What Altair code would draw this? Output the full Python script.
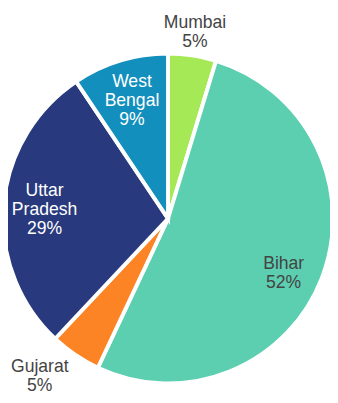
import altair as alt
import pandas as pd

names = ["Mumbai", "Bihar", "Gujarat", "Uttar Pradesh", "West Bengal"]
display = ["Mumbai", "Bihar", "Gujarat", "Uttar\nPradesh", "West\nBengal"]
values = [4.7, 52.3, 5.0, 28.6, 9.4]
colors = ["#a6e957", "#5dcfb1", "#fd8424", "#283a7d", "#138fbd"]

df = pd.DataFrame({"name": names, "disp": display, "value": values, "idx": list(range(len(names)))})

TOTAL = sum(values)
CX, CY = 164, 211
TY = CY + 1.5          # text anchor correction for Vega's 'middle' baseline
LH = 19.5
R = 169
theta_scale = alt.Scale(domain=[0, TOTAL], range=[0, 6.283185307179586])

base = alt.Chart(df).transform_window(
    end="sum(value)", sort=[alt.SortField("idx")], frame=[None, 0]
).transform_calculate(
    start="datum.end - datum.value",
    a=f"(datum.end - datum.value / 2) / {TOTAL} * 2 * PI",
    inside="datum.value >= 8",
    label=f"datum.disp + '\\n' + format(datum.value / {TOTAL} * 100, '.0f') + '%'",
).transform_calculate(
    nl="length(split(datum.label, '\\n'))",
    px=f"{CX} + (datum.inside ? 127 : ({R} + 3 + 110 * abs(sin(datum.a)))) * sin(datum.a)",
    py0=f"{TY} - (datum.inside ? 127 : 194) * cos(datum.a)",
).transform_calculate(
    py=f"datum.py0 - (datum.inside ? floor((datum.nl - 1) / 2) : (datum.nl - 1) / 2) * {LH}",
)

arcs = base.mark_arc(radius=R, stroke="white", strokeWidth=4).encode(
    theta=alt.Theta("start:Q", scale=theta_scale),
    theta2="end:Q",
    x=alt.value(CX),
    y=alt.value(CY),
    color=alt.Color("name:N", scale=alt.Scale(domain=names, range=colors), legend=None),
)

text = base.mark_text(
    font="Liberation Sans", fontSize=18, lineBreak="\n", lineHeight=LH,
    align="center", baseline="middle",
).encode(
    x=alt.X("px:Q", scale=None),
    y=alt.Y("py:Q", scale=None),
    text="label:N",
    color=alt.condition(
        alt.FieldOneOfPredicate(field="name", oneOf=["Uttar Pradesh", "West Bengal"]),
        alt.value("white"), alt.value("#444444"),
    ),
)

chart = alt.layer(arcs, text).properties(
    width=330, height=387, autosize=alt.AutoSizeParams(type="none"), padding=0,
).configure_view(stroke=None)

chart.save("out.html", embed_options={"renderer": "svg", "actions": False})
